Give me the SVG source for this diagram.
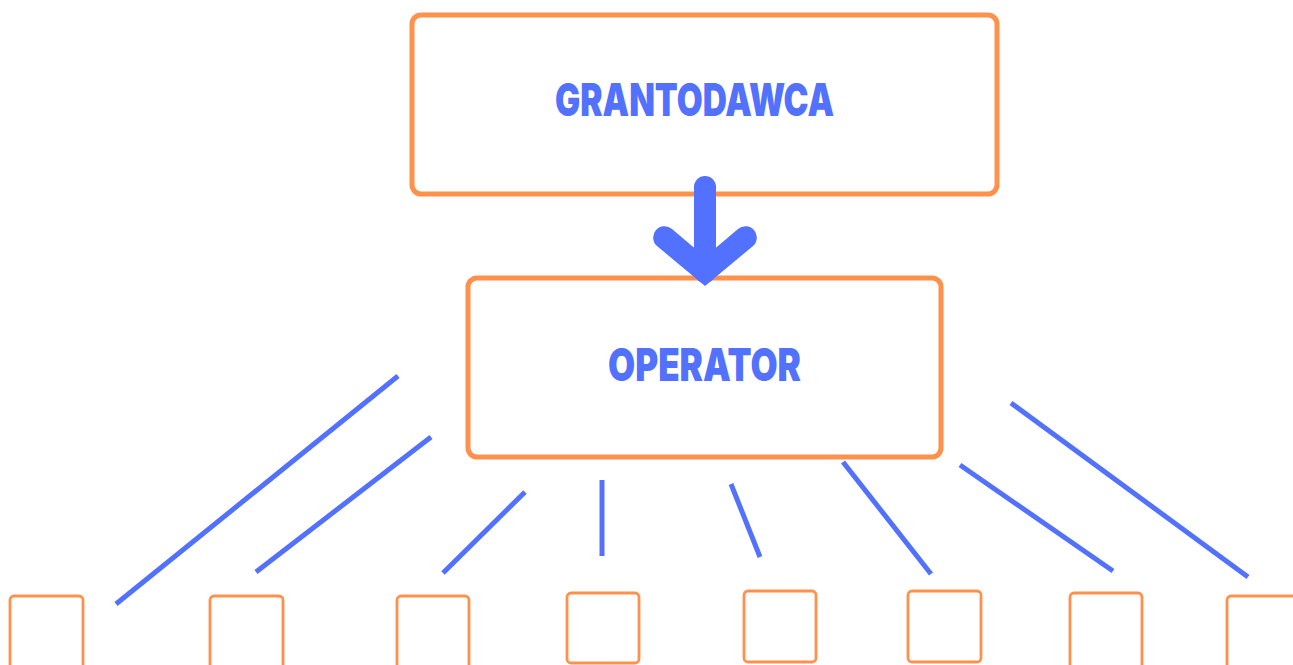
<svg xmlns="http://www.w3.org/2000/svg" width="1293" height="665" viewBox="0 0 1293 665">
<style>
.big{fill:#fff;stroke:#FF914D;stroke-width:5}
.small{fill:none;stroke:#FF914D;stroke-width:2.8}
.lbl{font-family:"Inter","DejaVu Sans Condensed","DejaVu Sans",sans-serif;font-weight:900;fill:#5271FF;font-size:45px}
.conn line{stroke:#5271FF;stroke-width:5}
</style>
<rect width="1293" height="665" fill="#fff"/>
<g id="grantodawca">
<rect class="big" x="412" y="15" width="585" height="179" rx="9"/>
<text class="lbl" x="555" y="116" textLength="279" lengthAdjust="spacingAndGlyphs">GRANTODAWCA</text>
</g>
<g id="operator">
<rect class="big" x="468" y="278" width="473" height="179" rx="9"/>
<text class="lbl" x="608" y="381" textLength="193" lengthAdjust="spacingAndGlyphs">OPERATOR</text>
</g>
<g id="n1"><rect class="small" x="10" y="596" width="73" height="90" rx="4"/></g>
<g id="n2"><rect class="small" x="210" y="596" width="73" height="90" rx="4"/></g>
<g id="n3"><rect class="small" x="397" y="596" width="72" height="90" rx="4"/></g>
<g id="n4"><rect class="small" x="567" y="593" width="72" height="70" rx="4"/></g>
<g id="n5"><rect class="small" x="744" y="591" width="72" height="71" rx="4"/></g>
<g id="n6"><rect class="small" x="908" y="591" width="73" height="71" rx="4"/></g>
<g id="n7"><rect class="small" x="1070" y="593" width="72" height="90" rx="4"/></g>
<g id="n8"><rect class="small" x="1227" y="596" width="90" height="90" rx="4"/></g>
<g id="connectors">
<g class="conn">
<line x1="398" y1="376" x2="116" y2="604"/>
<line x1="431" y1="437" x2="256" y2="572"/>
<line x1="525" y1="492" x2="443" y2="573"/>
<line x1="602" y1="480" x2="602" y2="556"/>
<line x1="731" y1="484" x2="760" y2="557"/>
<line x1="843" y1="462" x2="931" y2="574"/>
<line x1="960" y1="465" x2="1113" y2="571"/>
<line x1="1011" y1="403" x2="1248" y2="577"/>
</g>
<g stroke="#5271FF" stroke-width="22" stroke-linecap="round" fill="none">
<line x1="705" y1="187" x2="705" y2="272"/>
</g>
<path d="M705,286 L657,246 A11,11 0 0 1 672,229 L705,257 L738,229 A11,11 0 0 1 753,246 Z" fill="#5271FF"/>
</g>
</svg>
